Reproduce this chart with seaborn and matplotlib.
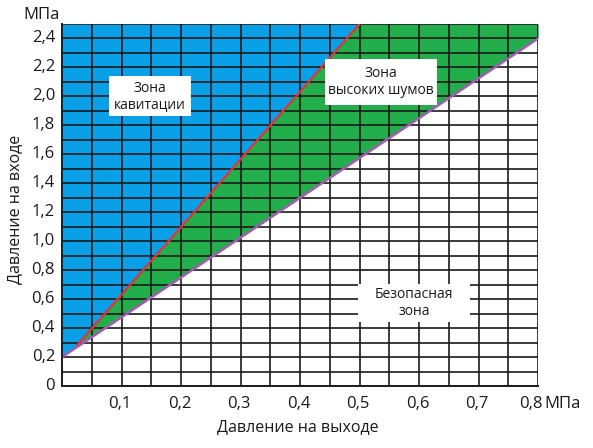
import numpy as np
import pandas as pd
import matplotlib
matplotlib.use('Agg')
import matplotlib.pyplot as plt
import seaborn as sns
from matplotlib.patches import Rectangle

# boundary lines (outlet pressure, inlet pressure), MPa
cavitation_x = [0.025, 0.5]
cavitation_y = [0.28, 2.5]
noise_x = [0.0, 0.8]
noise_y = [0.2, 2.4]

x_ticks = [0.1, 0.2, 0.3, 0.4, 0.5, 0.6, 0.7, 0.8]
x_labels = ['0,1', '0,2', '0,3', '0,4', '0,5', '0,6', '0,7', '0,8']
y_ticks = [0, 0.2, 0.4, 0.6, 0.8, 1.0, 1.2, 1.4, 1.6, 1.8, 2.0, 2.2, 2.4]
y_labels = ['0', '0,2', '0,4', '0,6', '0,8', '1,0', '1,2', '1,4', '1,6', '1,8', '2,0', '2,2', '2,4']

zones = ['Зона\nкавитации', 'Зона\nвысоких шумов', 'Безопасная\nзона']
zone_pos = [(0.148, 2.0), (0.536, 2.10), (0.592, 0.573)]
zone_box = [(0.079, 1.868, 0.138, 0.271), (0.442, 1.944, 0.188, 0.313), (0.497, 0.444, 0.189, 0.257)]

sns.set_style('white')
plt.rcParams['font.family'] = ['Open Sans', 'DejaVu Sans']

fig = plt.figure(figsize=(5.93, 4.48), dpi=100)
ax = fig.add_axes([0.1046, 0.1384, 0.8027, 0.808])

xmax, ymax = 0.8, 2.5
xs = np.linspace(0, xmax, 801)
purple = np.interp(xs, noise_x, noise_y)
red = np.interp(xs, cavitation_x, cavitation_y, left=-1, right=99)
red_top = np.minimum(red, ymax)

ax.fill_between(xs, purple, ymax, color='#0aa0e8', lw=0, zorder=1)
ax.fill_between(xs, purple, red_top, where=red_top > purple, color='#22ae4b', lw=0, zorder=1.1)

# grid: 0.05 MPa columns, 0.1 MPa rows
for gx in np.arange(1, 17) * 0.05:
    ax.axvline(gx, color='#1a1a1a', lw=1.2, zorder=2)
for gy in np.arange(1, 26) * 0.1:
    ax.axhline(gy, color='#1a1a1a', lw=1.2, zorder=2)

df_red = pd.DataFrame({'x': cavitation_x, 'y': cavitation_y})
df_purple = pd.DataFrame({'x': noise_x, 'y': noise_y})
sns.lineplot(data=df_red, x='x', y='y', color='#e8303a', lw=1.6, ax=ax, zorder=3)
sns.lineplot(data=df_purple, x='x', y='y', color='#a35cb0', lw=1.8, ax=ax, zorder=3)

ax.set_xticks([])
ax.set_yticks([])
ax.grid(False)
ax.set_xlim(0, xmax)
ax.set_ylim(0, ymax)
for s in ['top', 'right']:
    ax.spines[s].set_visible(False)
for s in ['left', 'bottom']:
    ax.spines[s].set_color('#1a1a1a')
    ax.spines[s].set_linewidth(1.4)
    ax.spines[s].set_zorder(3.5)
ax.set_xlabel('')
ax.set_ylabel('')

for xv, lab in zip(x_ticks, x_labels):
    dx = -5 if lab == '0,8' else -1
    ax.annotate(lab, (xv, 0), xytext=(dx, -7), textcoords='offset points',
                ha='center', va='top', fontsize=12, color='#1a1a1a', annotation_clip=False)
ax.annotate('МПа', (0.8, 0), xytext=(4.5, -7), textcoords='offset points',
            ha='left', va='top', fontsize=12, color='#1a1a1a', annotation_clip=False)
for yv, lab in zip(y_ticks, y_labels):
    ax.annotate(lab, (0, yv), xytext=(-5, 0), textcoords='offset points',
                ha='right', va='center', fontsize=12, color='#1a1a1a', annotation_clip=False)
ax.annotate('МПа', (0, ymax), xytext=(-2, 1), textcoords='offset points',
            ha='right', va='bottom', fontsize=12, color='#1a1a1a', annotation_clip=False)

fig.text(298 / 593, 1 - 427 / 448, 'Давление на выходе', ha='center', va='center',
         fontsize=11.5, color='#1a1a1a', fontweight='medium')
fig.text(15 / 593, 1 - 209 / 448, 'Давление на входе', ha='center', va='center',
         rotation=90, fontsize=11.5, color='#1a1a1a', fontweight='medium')

for name, (tx, ty), (bx, by, bw, bh) in zip(zones, zone_pos, zone_box):
    ax.add_patch(Rectangle((bx, by), bw, bh, facecolor='white', edgecolor='none', zorder=4))
    ax.text(tx, ty, name, ha='center', va='center', fontsize=10, color='#1a1a1a',
            linespacing=1.15, zorder=5)

fig.savefig('out.png', dpi=100)
